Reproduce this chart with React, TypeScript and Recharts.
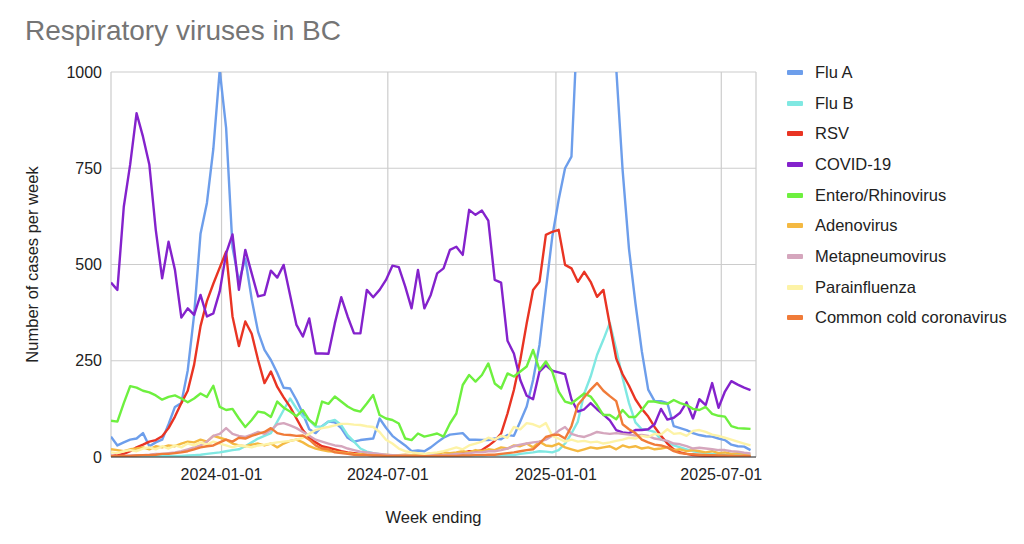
import React from 'react';
import { LineChart, Line, XAxis, YAxis, CartesianGrid } from 'recharts';

// Weekly counts, weeks ending Saturday, first week ending 2023-09-02
const fluA = [53,30,38,45,48,62,28,38,45,85, 130,140,225,370,580,660,800,1005,855,545, 455,515,410,325,278,252,218,180,178,148, 113,72,62,80,92,90,75,50,40,44, 46,48,100,76,55,42,30,15,17,15, 25,38,50,58,60,62,45,45,44,44, 48,46,57,55,92,131,200,291,434,572, 668,750,780,1150,1500,1800,1900,1700,1350,1010, 745,540,400,275,175,145,145,140,80,75, 70,62,57,54,53,48,44,32,28,27, 18];
const fluB = [0,0,0,1,1,1,2,2,2,3, 3,3,4,5,6,8,10,12,15,18, 20,28,38,48,55,62,92,122,152,126, 105,96,79,79,92,96,83,57,40,22, 14,10,7,5,4,3,3,2,2,2, 2,2,2,3,3,3,4,4,4,5, 5,5,5,5,8,10,12,15,14,12, 18,35,61,92,165,209,265,305,348,280, 205,140,90,72,70,65,45,40,30,25, 20,15,12,10,8,8,6,5,5,4, 4];
const rsv = [3,5,8,15,25,32,40,44,54,75, 105,140,172,240,340,405,450,492,533,365, 288,352,320,252,192,222,182,155,130,100, 70,50,38,28,24,20,15,12,10,8, 6,5,5,4,3,3,2,2,3,2, 3,4,5,6,8,10,15,14,18,29, 42,61,113,174,252,347,434,455,577,585, 590,499,490,455,481,455,416,434,343,256, 215,185,150,125,105,78,55,35,20,12, 8,5,4,3,3,2,2,2,2,1, 1];
const covid = [453,434,650,760,893,832,759,590,464,559, 486,362,386,369,421,365,373,430,529,578, 434,538,477,417,421,484,466,499,421,343, 313,360,269,269,268,347,415,365,321,321, 434,415,434,460,497,493,443,386,486,386, 421,477,490,538,546,525,642,629,640,614, 460,453,302,269,200,159,150,222,238,224, 220,215,150,118,124,140,124,110,95,70, 64,62,70,70,72,85,125,97,102,115, 142,100,150,135,192,128,170,197,188,180, 174];
const entero = [94,92,140,184,180,172,168,160,149,156, 160,152,142,152,165,156,185,130,122,125, 100,78,96,118,115,104,144,128,118,106, 122,96,83,144,138,157,144,131,122,118, 139,161,109,100,96,87,48,44,61,53, 57,61,53,87,113,187,213,196,213,243, 191,178,217,209,222,235,278,226,248,222, 170,144,139,152,165,157,135,109,109,98, 122,104,104,122,144,144,140,138,148,140, 135,125,122,130,112,107,105,80,75,74, 73];
const adeno = [20,18,15,20,22,25,20,28,25,30, 28,35,40,38,45,40,55,50,45,35, 30,28,32,35,30,35,25,35,42,45, 38,28,22,18,15,14,12,10,8,7, 6,7,5,6,4,5,6,5,8,6, 10,8,12,10,12,15,12,18,15,20, 18,25,22,30,28,35,25,40,30,28, 35,25,20,15,20,25,22,25,28,20, 30,25,28,22,25,20,22,25,18,20, 15,18,15,12,15,10,12,8,10,8, 6];
const metapneumo = [3,2,3,4,5,5,6,8,8,10, 12,15,20,25,30,40,55,60,75,60, 55,52,58,65,60,70,85,88,82,75, 65,55,45,40,35,30,28,22,18,14, 12,10,8,6,5,4,4,3,3,4, 5,4,5,6,8,8,10,12,12,15, 15,18,22,28,32,35,38,40,45,55, 68,78,60,55,52,58,65,62,60,62, 60,58,56,57,55,48,45,42,35,33, 28,22,24,22,20,18,18,15,14,11, 9];
const parainfluenza = [12,10,15,18,15,22,25,20,28,22, 30,25,35,30,38,32,40,35,30,25, 30,28,25,30,32,35,38,40,42,45, 50,60,70,75,78,82,86,86,84,83, 80,78,65,45,35,22,15,12,10,8, 10,12,15,20,25,20,30,35,40,50, 45,55,50,78,72,88,85,78,88,55, 48,40,45,40,42,38,40,35,38,42, 45,50,48,55,52,60,58,72,60,62, 55,68,70,65,58,55,50,45,40,35, 30];
const commonCold = [2,2,3,3,4,5,5,6,8,8, 10,12,15,20,25,28,30,38,45,40, 50,48,55,60,65,75,62,58,57,55, 56,45,30,22,20,12,10,8,6,5, 5,4,4,3,3,3,3,2,2,2, 2,3,3,3,3,4,4,5,5,6, 6,8,10,12,15,18,20,35,52,57, 58,48,80,135,155,175,192,172,158,145, 85,72,62,45,38,32,30,25,15,10, 8,7,6,5,5,4,4,3,3,3, 2];

const DAY = 86400000;
const firstWeekEnding = Date.UTC(2023, 8, 2);
const weekEnding = fluA.map((_, i) => firstWeekEnding + i * 7 * DAY);
const xDomain = [firstWeekEnding, Date.UTC(2025, 7, 8)];
const xTickLabels = ['2024-01-01', '2024-07-01', '2025-01-01', '2025-07-01'];
const xTicks = xTickLabels.map((s) => Date.parse(s + 'T00:00:00Z'));
const yTicks = [0, 250, 500, 750, 1000];

const series = [
  { key: 'fluA', name: 'Flu A', color: '#6d9eeb', values: fluA },
  { key: 'fluB', name: 'Flu B', color: '#80e8e2', values: fluB },
  { key: 'rsv', name: 'RSV', color: '#e93423', values: rsv },
  { key: 'covid', name: 'COVID-19', color: '#8422cc', values: covid },
  { key: 'entero', name: 'Entero/Rhinovirus', color: '#6ef03f', values: entero },
  { key: 'adeno', name: 'Adenovirus', color: '#f4b942', values: adeno },
  { key: 'meta', name: 'Metapneumovirus', color: '#d5a6bd', values: metapneumo },
  { key: 'para', name: 'Parainfluenza', color: '#fdf3a7', values: parainfluenza },
  { key: 'cold', name: 'Common cold coronavirus', color: '#f07b39', values: commonCold },
];

const data = weekEnding.map((t, i) => {
  const row: any = { t };
  series.forEach((s) => { row[s.key] = s.values[i]; });
  return row;
});

const FONT = '"Liberation Sans", Arial, Helvetica, sans-serif';
const fmt = (t: number) => new Date(t).toISOString().slice(0, 10);

export default function App() {
  return (
    <div style={{ position: 'absolute', left: 0, top: 0, width: 1024, height: 544, background: '#fff', fontFamily: FONT }}>
      <div style={{ position: 'absolute', left: 25, top: 17, fontSize: 28, lineHeight: '28px', color: '#757575', whiteSpace: 'nowrap' }}>
        Respiratory viruses in BC
      </div>
      <LineChart width={1024} height={544} data={data} margin={{ top: 72, right: 268, bottom: 27, left: 0 }} style={{ fontFamily: FONT }}>
        <CartesianGrid stroke="#cccccc" strokeWidth={1.2} />
        <XAxis
          dataKey="t"
          type="number"
          scale="linear"
          domain={xDomain}
          ticks={xTicks}
          tickFormatter={fmt}
          allowDataOverflow
          height={60}
          tickLine={false}
          tickSize={0}
          tickMargin={12}
          axisLine={{ stroke: '#333333', strokeWidth: 1.2 }}
          tick={{ fontSize: 16, fill: '#222222' }}
          label={{
            content: (p: any) => {
              const vb = p.viewBox || { x: 111, y: 457, width: 645, height: 60 };
              return (
                <text x={vb.x + vb.width / 2} y={vb.y + 60} textAnchor="middle" dominantBaseline="central" fontSize={16.5} fill="#222222">
                  Week ending
                </text>
              );
            },
          }}
        />
        <YAxis
          type="number"
          domain={[0, 1000]}
          ticks={yTicks}
          allowDataOverflow
          width={111}
          tickLine={false}
          tickSize={0}
          tickMargin={9}
          axisLine={false}
          tick={{ fontSize: 16, fill: '#222222' }}
          label={{
            content: (p: any) => {
              const vb = p.viewBox || { x: 0, y: 72, width: 111, height: 385 };
              const cx = vb.x + 32;
              const cy = vb.y + vb.height / 2;
              return (
                <text x={cx} y={cy} transform={`rotate(-90 ${cx} ${cy})`} textAnchor="middle" dominantBaseline="central" fontSize={16.5} fill="#222222">
                  Number of cases per week
                </text>
              );
            },
          }}
        />
        {series.map((s) => (
          <Line
            key={s.key}
            type="linear"
            dataKey={s.key}
            name={s.name}
            stroke={s.color}
            strokeWidth={2.4}
            strokeLinejoin="round"
            dot={false}
            activeDot={false}
            isAnimationActive={false}
          />
        ))}
      </LineChart>
      <div style={{ position: 'absolute', left: 787, top: 57, fontSize: 16.5, color: '#222222' }}>
        {series.map((s) => (
          <div key={s.key} style={{ height: 30.7, display: 'flex', alignItems: 'center', whiteSpace: 'nowrap' }}>
            <span style={{ display: 'inline-block', width: 16, height: 5, background: s.color, marginRight: 12, borderRadius: 1 }} />
            <span>{s.name}</span>
          </div>
        ))}
      </div>
    </div>
  );
}
